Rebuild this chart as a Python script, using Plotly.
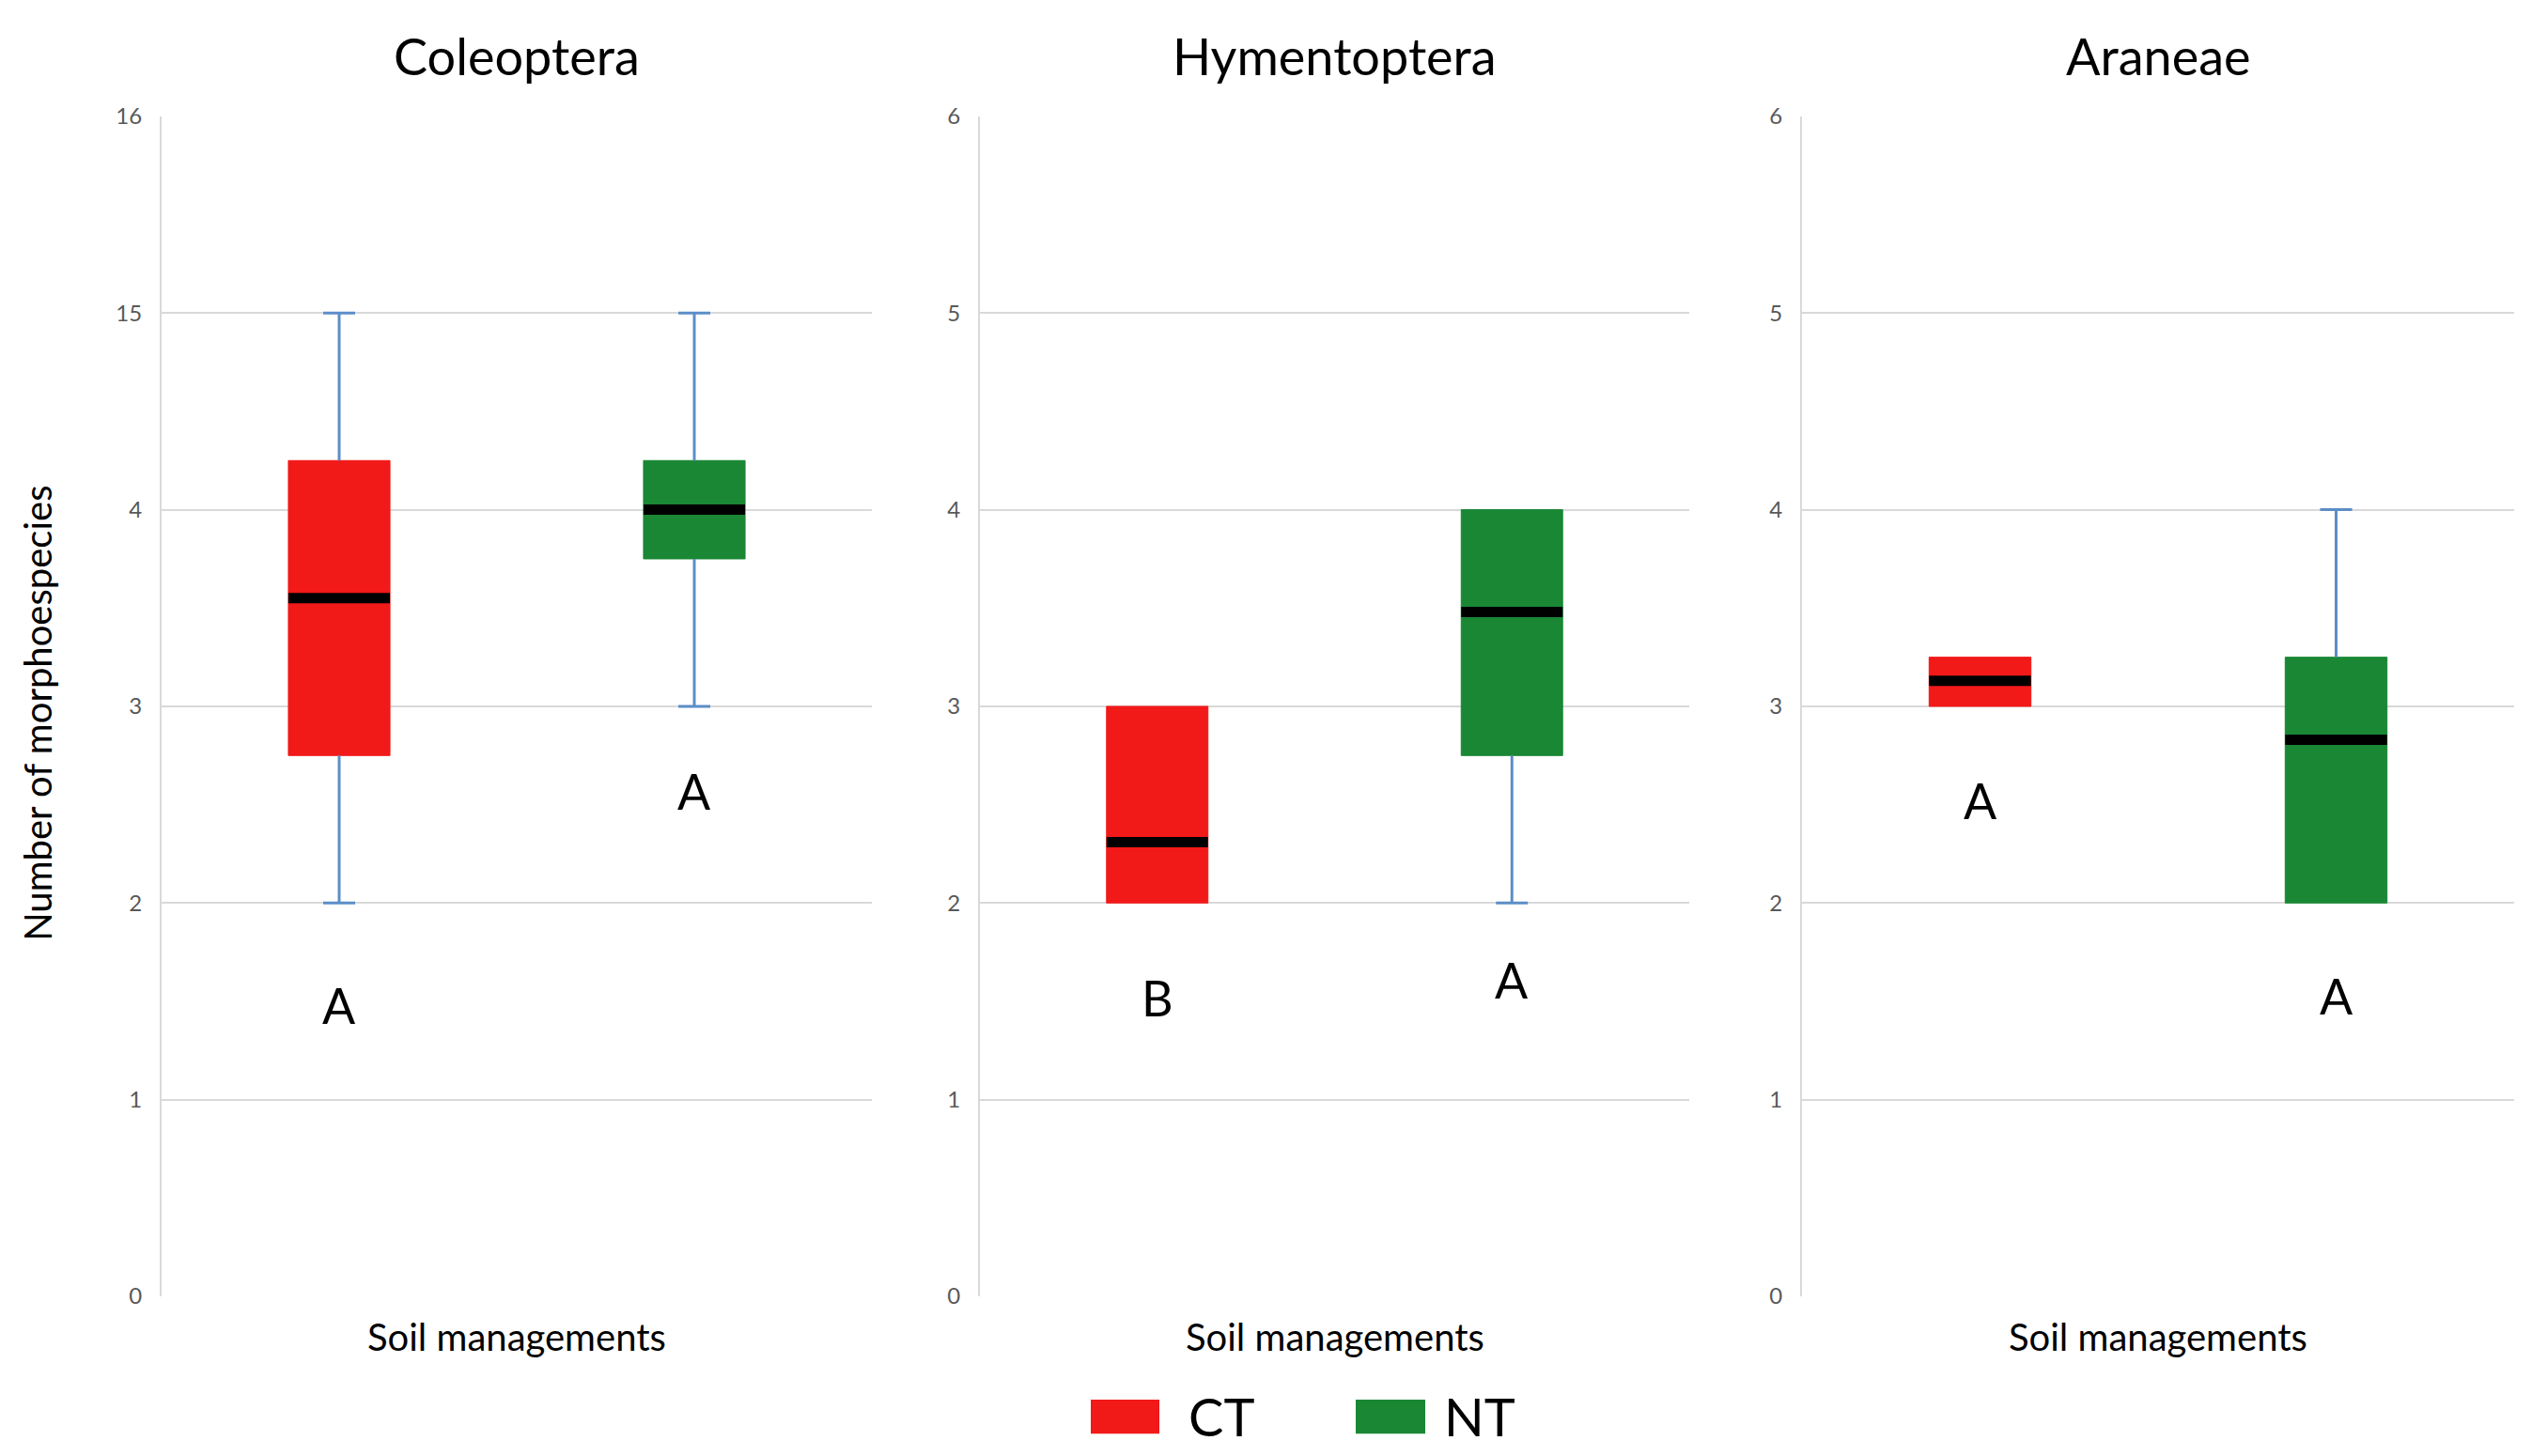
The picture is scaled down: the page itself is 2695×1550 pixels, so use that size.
import plotly.graph_objects as go

# ---------------- data ----------------
groups = ["Coleoptera", "Hymentoptera", "Araneae"]
treatments = ["CT", "NT"]
treatment_pos = [0, 1]

whisker_low = [[2.0, 3.0], [2.0, 2.0], [3.0, 2.0]]
q1 = [[2.75, 3.75], [2.0, 2.75], [3.0, 2.0]]
median = [[3.55, 4.0], [2.31, 3.48], [3.13, 2.83]]
q3 = [[4.25, 4.25], [3.0, 4.0], [3.25, 3.25]]
whisker_high = [[5.0, 5.0], [3.0, 4.0], [3.25, 4.0]]

letters = [["A", "A"], ["B", "A"], ["A", "A"]]
letter_y = [[1.48, 2.57], [1.52, 1.61], [2.52, 1.53]]

tick_vals = [0, 1, 2, 3, 4, 5, 6]
tick_text = [
    ["0", "1", "2", "3", "4", "15", "16"],
    ["0", "1", "2", "3", "4", "5", "6"],
    ["0", "1", "2", "3", "4", "5", "6"],
]
y_title = "Number of morphoespecies"
x_title = "Soil managements"

# ---------------- style ----------------
W, H = 2695, 1550
colors = {"CT": "#F21919", "NT": "#1A8734"}
whisker_color = "#5B8EC8"
grid_color = "#D9D9D9"
FONT = "Lato"
box_w = 0.286
cap_w = 0.09

x_domains = [(172 / W, 928 / W), (1043 / W, 1798 / W), (1918 / W, 2676 / W)]
y_domain = (1 - 1390 / H, 1 - 110 / H)

fig = go.Figure()

for gi, g in enumerate(groups):
    xa = "x" if gi == 0 else f"x{gi + 1}"
    ya = "y" if gi == 0 else f"y{gi + 1}"
    for ti, t in enumerate(treatments):
        p = treatment_pos[ti]
        # box body
        fig.add_trace(go.Bar(
            x=[p], y=[q3[gi][ti] - q1[gi][ti]], base=[q1[gi][ti]],
            width=box_w, marker=dict(color=colors[t], line=dict(width=1, color=colors[t])),
            name=t, showlegend=False, xaxis=xa, yaxis=ya, hoverinfo="skip"))
        # whiskers
        wx, wy = [], []
        if whisker_low[gi][ti] < q1[gi][ti]:
            wx += [p, p, None, p - cap_w / 2, p + cap_w / 2, None]
            wy += [whisker_low[gi][ti], q1[gi][ti], None,
                   whisker_low[gi][ti], whisker_low[gi][ti], None]
        if whisker_high[gi][ti] > q3[gi][ti]:
            wx += [p, p, None, p - cap_w / 2, p + cap_w / 2, None]
            wy += [q3[gi][ti], whisker_high[gi][ti], None,
                   whisker_high[gi][ti], whisker_high[gi][ti], None]
        if wx:
            fig.add_trace(go.Scatter(
                x=wx, y=wy, mode="lines", line=dict(color=whisker_color, width=3),
                showlegend=False, xaxis=xa, yaxis=ya, hoverinfo="skip"))
        # median
        fig.add_trace(go.Scatter(
            x=[p - box_w / 2, p + box_w / 2], y=[median[gi][ti], median[gi][ti]],
            mode="lines", line=dict(color="black", width=11),
            showlegend=False, xaxis=xa, yaxis=ya, hoverinfo="skip"))
        # significance letter
        fig.add_annotation(
            x=p, y=letter_y[gi][ti], xref=xa, yref=ya, text=letters[gi][ti],
            showarrow=False, font=dict(family=FONT, size=52, color="black"),
            xanchor="center", yanchor="middle")

    ax = dict(domain=list(x_domains[gi]), range=[-0.5, 1.5], showgrid=False,
              zeroline=False, showline=False, showticklabels=False, fixedrange=True)
    ay = dict(domain=list(y_domain), range=[0, 6], tickvals=tick_vals, ticktext=tick_text[gi],
              showgrid=True, gridcolor=grid_color, gridwidth=2, zeroline=False,
              showline=True, linecolor=grid_color, linewidth=2, ticks="",
              ticklabelstandoff=14,
              tickfont=dict(family=FONT, size=24, color="#595959"))
    if gi == 0:
        fig.update_layout(xaxis=ax, yaxis=ay)
    else:
        ax["anchor"] = f"y{gi + 1}"
        ay["anchor"] = f"x{gi + 1}"
        fig.update_layout(**{f"xaxis{gi + 1}": ax, f"yaxis{gi + 1}": ay})

    # panel title
    fig.add_annotation(x=0.5, y=1 + 66 / 1280, xref=f"{xa} domain", yref=f"{ya} domain",
                       text=g, showarrow=False, xanchor="center", yanchor="middle",
                       font=dict(family=FONT, size=54, color="black"))
    # x-axis title
    fig.add_annotation(x=0.5, y=-44 / 1280, xref=f"{xa} domain", yref=f"{ya} domain",
                       text=x_title, showarrow=False, xanchor="center", yanchor="middle",
                       font=dict(family=FONT, size=40, color="black"))

# y-axis title
fig.add_annotation(x=40 / W, y=1 - 758 / H, xref="paper", yref="paper", text=y_title,
                   textangle=-90, showarrow=False, xanchor="center", yanchor="middle",
                   font=dict(family=FONT, size=40, color="black"))

# legend (drawn as layout decoration)
legend_box_x = [(1161, 1234), (1443, 1517)]
legend_text_x = [1263, 1535]
for ti, t in enumerate(treatments):
    x0, x1 = legend_box_x[ti]
    fig.add_shape(type="rect", xref="paper", yref="paper",
                  x0=x0 / W, x1=x1 / W, y0=1 - 1539 / H, y1=1 - 1502 / H,
                  fillcolor=colors[t], line=dict(width=0))
    fig.add_annotation(x=legend_text_x[ti] / W, y=1 - 1520 / H, xref="paper", yref="paper",
                       text=t, showarrow=False, xanchor="left", yanchor="middle",
                       font=dict(family=FONT, size=56, color="black"))

fig.update_layout(width=W, height=H, margin=dict(l=0, r=0, t=0, b=0),
                  paper_bgcolor="white", plot_bgcolor="white", showlegend=False,
                  barmode="overlay")

page_fix = (
    "var s=document.createElement('style');"
    "s.textContent='html,body{margin:0;padding:0;overflow:hidden;height:1550px;width:2695px;}"
    "body>div{height:1550px;overflow:hidden;}';"
    "document.head.appendChild(s);"
)
fig.write_html("out.html", config={"displayModeBar": False, "staticPlot": True},
               post_script=page_fix)
